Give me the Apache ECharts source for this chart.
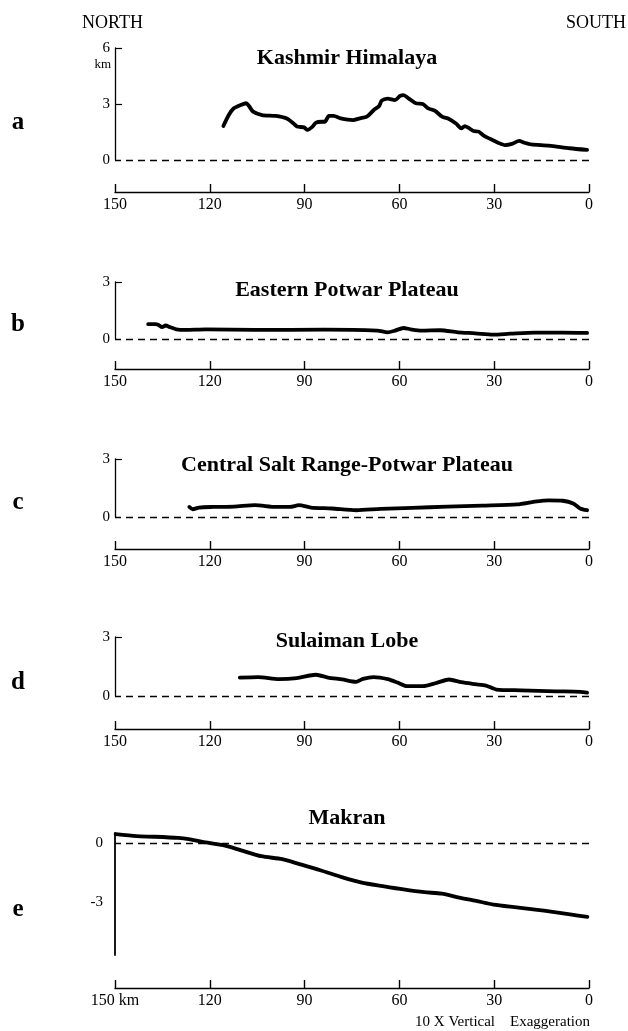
<!DOCTYPE html>
<html>
<head>
<meta charset="utf-8">
<script src="https://cdn.jsdelivr.net/npm/echarts@6/dist/echarts.min.js"></script>
<style>
html,body{margin:0;padding:0;background:#fff;}
#chart{width:628px;height:1031px;}
</style>
</head>
<body>
<div id="chart"></div>
<script>
// ---- data (distance in km from south end, elevation in km) ----
const xTicks = [150, 120, 90, 60, 30, 0];

const kashmirKm = [115.7,114,112.4,110.2,108.5,107.6,106.3,103.5,99.1,95.8,93.5,92.4,90.2,89.1,87.5,86.4,84.7,83.6,82.3,80.8,78.6,74.7,72.5,70.3,68.1,66.4,65.6,63.7,61.4,59.8,58.7,57.0,54.8,52.6,50.9,48.7,46.5,44.3,42.1,40.4,39.3,38.2,36.5,34.9,33.2,31.0,28.8,26.6,24.4,22.1,20.5,18.3,12.7,6.1,0.6];
const kashmirElev = [1.82,2.41,2.77,2.95,3.04,2.89,2.59,2.41,2.36,2.23,1.96,1.79,1.75,1.61,1.79,2.0,2.05,2.05,2.36,2.36,2.23,2.14,2.23,2.32,2.68,2.89,3.18,3.29,3.21,3.43,3.48,3.29,3.04,3.0,2.77,2.63,2.32,2.2,1.96,1.70,1.82,1.73,1.55,1.52,1.29,1.11,0.93,0.80,0.86,1.02,0.93,0.84,0.77,0.63,0.54];

const potwarKm = [139.5,137.3,136.2,135.1,134.0,132.5,130.6,127.8,121.2,105.7,83.6,67.0,63.7,61.4,58.7,56.5,53.1,47.1,41.5,36.0,30.4,24.9,17.2,8.3,0.6];
const potwarElev = [0.78,0.78,0.74,0.62,0.71,0.62,0.51,0.48,0.51,0.48,0.49,0.44,0.35,0.44,0.58,0.51,0.44,0.46,0.35,0.30,0.23,0.28,0.34,0.34,0.32];

const saltKm = [126.5,125.4,123.4,119,112.3,105.7,99.1,94.6,91.8,88.0,81.4,73.6,65.9,55.9,44.8,33.8,22.7,17.2,12.7,8.3,5.0,2.8,0.6];
const saltElev = [0.52,0.40,0.49,0.52,0.54,0.61,0.52,0.52,0.61,0.49,0.44,0.35,0.42,0.47,0.54,0.59,0.65,0.79,0.86,0.84,0.70,0.44,0.35];

const sulaimanKm = [110.5,104.7,98.1,92.5,86.4,82.6,78.1,73.7,71.5,68.2,63.7,60.4,57.7,52.6,48.2,44.3,40.4,36.0,32.6,29.3,21.5,10.4,2.7,0.6];
const sulaimanElev = [0.93,0.96,0.86,0.91,1.08,0.94,0.84,0.72,0.87,0.96,0.86,0.67,0.50,0.50,0.67,0.84,0.70,0.60,0.53,0.33,0.29,0.24,0.21,0.17];

const makranKm = [149.8,143.2,137.7,130.0,126.7,122.3,115.8,110.3,103.7,97.1,91.6,85.0,78.5,71.9,65.3,58.7,52.1,46.6,41.1,35.7,30.2,23.6,17.0,11.5,6.0,0.5];
const makranElev = [0.44,0.34,0.31,0.25,0.19,0.05,-0.12,-0.37,-0.68,-0.83,-1.08,-1.39,-1.73,-2.02,-2.20,-2.37,-2.51,-2.58,-2.78,-2.95,-3.14,-3.27,-3.39,-3.51,-3.64,-3.76];

const panelTitles = ['Kashmir Himalaya', 'Eastern Potwar Plateau', 'Central Salt Range-Potwar Plateau', 'Sulaiman Lobe', 'Makran'];
const panelLetters = ['a', 'b', 'c', 'd', 'e'];
const yLabelValues = [[0, 3, 6], [0, 3], [0, 3], [0, 3], [0, -3]];
const yTickValues = [[3, 6], [3], [3], [3], []];
const yRanges = [[0, 6], [0, 3], [0, 3], [0, 3], [-5.7, 0.5]];

// ---- layout ----
const FONT = '"Liberation Serif", "DejaVu Serif", serif';
const layout = [
  {top: 48,  height: 112, offset: 32, titleY: 58,  letterY: 123},
  {top: 282, height: 57,  offset: 30, titleY: 290, letterY: 325},
  {top: 459, height: 58,  offset: 32, titleY: 465, letterY: 503},
  {top: 637, height: 59,  offset: 33, titleY: 641, letterY: 683},
  {top: 833, height: 122, offset: 33, titleY: 818, letterY: 910}
];
const kmLists = [kashmirKm, potwarKm, saltKm, sulaimanKm, makranKm];
const elevLists = [kashmirElev, potwarElev, saltElev, sulaimanElev, makranElev];

const grids = [], xAxes = [], yAxes = [], series = [], graphics = [];
layout.forEach((L, i) => {
  grids.push({left: 115, width: 474, top: L.top, height: L.height, containLabel: false, outerBoundsMode: 'none'});
  xAxes.push({
    gridIndex: i, type: 'value', min: 0, max: 150, interval: 30, inverse: true,
    position: 'bottom', offset: L.offset,
    axisLine: {show: true, onZero: false, lineStyle: {color: '#000', width: 1.4}},
    axisTick: {show: true, inside: true, length: 8, lineStyle: {color: '#000', width: 1.4}},
    axisLabel: {color: '#000', fontFamily: FONT, fontSize: 16, margin: 5, showMinLabel: true, showMaxLabel: true,
      formatter: v => (i === 4 && v === xTicks[0]) ? '150 km' : String(v)},
    splitLine: {show: false}
  });
  yAxes.push({
    gridIndex: i, type: 'value', min: yRanges[i][0], max: yRanges[i][1],
    axisLine: {show: true, onZero: false, lineStyle: {color: '#000', width: i === 4 ? 1.8 : 1.3}},
    axisTick: {show: yTickValues[i].length > 0, inside: true, length: 7, customValues: yTickValues[i], lineStyle: {color: '#000', width: 1.2}},
    axisLabel: {color: '#000', fontFamily: FONT, fontSize: 15, margin: i === 4 ? 12 : 5, customValues: yLabelValues[i]},
    splitLine: {show: false}
  });
  series.push({
    type: 'line', xAxisIndex: i, yAxisIndex: i,
    data: kmLists[i].map((k, j) => [k, elevLists[i][j]]),
    showSymbol: false, smooth: 0.25,
    lineStyle: {color: '#000', width: 3.8, cap: 'round', join: 'round'},
    markLine: {
      silent: true, symbol: 'none', label: {show: false},
      lineStyle: {color: '#000', width: 1.3, type: [7, 5]},
      data: [{yAxis: 0}]
    }
  });
  graphics.push({type: 'text', x: 347, y: L.titleY,
    style: {text: panelTitles[i], font: 'bold 22px ' + FONT, fill: '#000', textAlign: 'center', textVerticalAlign: 'middle'}});
  graphics.push({type: 'text', x: 18, y: L.letterY,
    style: {text: panelLetters[i], font: 'bold 25px ' + FONT, fill: '#000', textAlign: 'center', textVerticalAlign: 'middle'}});
});

graphics.push({type: 'text', x: 82, y: 23, style: {text: 'NORTH', font: '18px ' + FONT, fill: '#000', textAlign: 'left', textVerticalAlign: 'middle'}});
graphics.push({type: 'text', x: 626, y: 23, style: {text: 'SOUTH', font: '18px ' + FONT, fill: '#000', textAlign: 'right', textVerticalAlign: 'middle'}});
graphics.push({type: 'text', x: 111, y: 65, style: {text: 'km', font: '13px ' + FONT, fill: '#000', textAlign: 'right', textVerticalAlign: 'middle'}});
graphics.push({type: 'text', x: 590, y: 1022, style: {text: '10 X Vertical    Exaggeration', font: '15px ' + FONT, fill: '#000', textAlign: 'right', textVerticalAlign: 'middle'}});

const chart = echarts.init(document.getElementById('chart'), null, {renderer: 'canvas'});
chart.setOption({
  animation: false,
  backgroundColor: '#fff',
  grid: grids, xAxis: xAxes, yAxis: yAxes, series: series,
  graphic: graphics
});
</script>
</body>
</html>
